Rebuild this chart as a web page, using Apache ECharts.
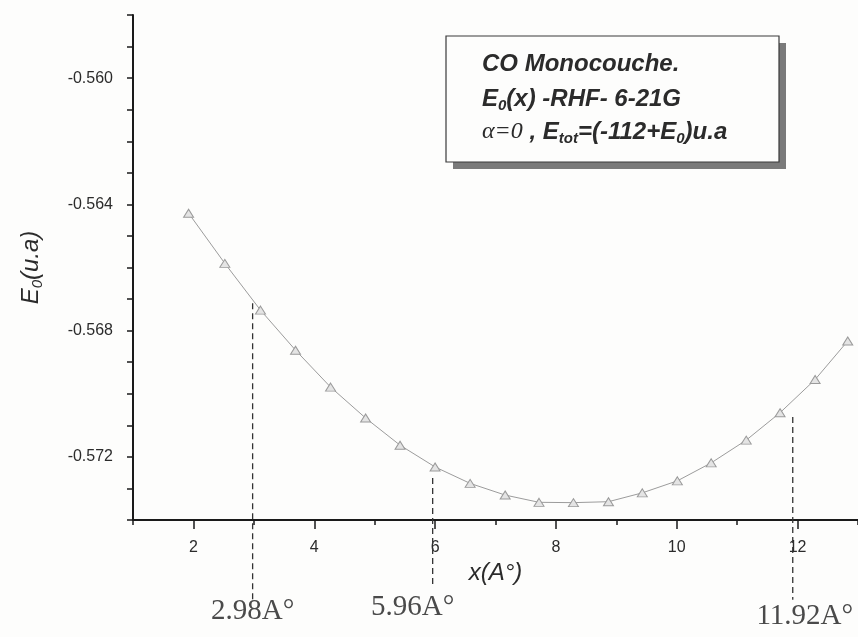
<!DOCTYPE html>
<html>
<head>
<meta charset="utf-8">
<script src="https://cdn.jsdelivr.net/npm/echarts@6/dist/echarts.min.js"></script>
<style>
  html, body { margin: 0; padding: 0; background: #fff; }
  #c { width: 858px; height: 637px; }
</style>
</head>
<body>
<div id="c"></div>
<script>
// Lattice distance x (Å) and ground-state energy E0 (u.a), RHF 6-21G
const xValues = [1.92, 2.52, 3.11, 3.69, 4.27, 4.85, 5.42, 6.00, 6.58, 7.16,
                 7.72, 8.29, 8.87, 9.43, 10.01, 10.57, 11.15, 11.71, 12.29, 12.83];
const energy = [-0.56428, -0.56587, -0.56735, -0.56862, -0.56979, -0.57077, -0.57163, -0.57232, -0.57284, -0.57321,
                -0.57344, -0.57345, -0.57342, -0.57314, -0.57276, -0.57219, -0.57147, -0.57060, -0.56955, -0.56833];

// Tick labels
const xTickLabels = [2, 4, 6, 8, 10, 12];
const yTickLabels = [-0.572, -0.568, -0.564, -0.560];

// Marked lattice distances (Å), with the energy span of each guide line
const latticeMarks = [2.98, 5.96, 11.92];
const latticeLabels = ['2.98A°', '5.96A°', '11.92A°'];
const markTops = [-0.56713, -0.57267, -0.57074];
const markBottoms = [-0.57653, -0.57615, -0.57653];

const SANS = '"Liberation Sans", Arial, sans-serif';
const SERIF = '"Liberation Serif", "Times New Roman", serif';
const INK = '#2b2b2b';

const chart = echarts.init(document.getElementById('c'), null, { renderer: 'canvas' });

const axisLineStyle = { color: '#1a1a1a', width: 2 };

chart.setOption({
  backgroundColor: '#fdfdfc',
  animation: false,
  grid: { left: 133, top: 15, width: 727, height: 505 },
  xAxis: [{
    type: 'value', min: 1, max: 13, interval: 1,
    axisLine: { show: true, onZero: false, lineStyle: axisLineStyle },
    axisTick: { show: true, length: 5, lineStyle: { color: '#1a1a1a', width: 1.5 } },
    axisLabel: { customValues: xTickLabels, margin: 20, fontSize: 16, color: INK, fontFamily: SANS },
    splitLine: { show: false },
    name: 'x(A°)', nameLocation: 'middle', nameGap: 40,
    nameTextStyle: { fontSize: 24, fontStyle: 'italic', color: INK, fontFamily: SANS }
  }, {
    type: 'value', min: 1, max: 13, position: 'bottom',
    axisLine: { show: false },
    axisTick: { show: true, customValues: xTickLabels, length: 9, lineStyle: { color: '#1a1a1a', width: 1.5 } },
    axisLabel: { show: false },
    splitLine: { show: false }
  }],
  yAxis: {
    type: 'value', min: -0.574, max: -0.558, interval: 0.001,
    axisLine: { show: true, onZero: false, lineStyle: axisLineStyle },
    axisTick: { show: true, length: 6, lineStyle: { color: '#1a1a1a', width: 1.5 } },
    axisLabel: {
      customValues: yTickLabels, margin: 20, fontSize: 16, color: INK, fontFamily: SANS,
      formatter: v => v.toFixed(3)
    },
    splitLine: { show: false },
    name: '{m|E}{s|0}{m|(u.a)}', nameLocation: 'middle', nameGap: 88,
    nameTextStyle: {
      rich: {
        m: { fontSize: 24, fontStyle: 'italic', color: INK, fontFamily: SANS, lineHeight: 28 },
        s: { fontSize: 15, fontStyle: 'italic', color: INK, fontFamily: SANS, lineHeight: 13, verticalAlign: 'bottom' }
      }
    }
  },
  series: [{
    type: 'line',
    data: xValues.map((x, i) => [x, energy[i]]),
    symbol: 'triangle', symbolSize: [10, 8],
    lineStyle: { color: '#9c9c9c', width: 1 },
    itemStyle: { color: '#e4e4e4', borderColor: '#9a9a9a', borderWidth: 1 },
    clip: false
  }]
});

// Legend box, guide lines and their labels
const main = { fontSize: 24, fontStyle: 'italic', fontWeight: 'bold', fontFamily: SANS, fill: INK, lineHeight: 28 };
const sub = { fontSize: 15, fontStyle: 'italic', fontWeight: 'bold', fontFamily: SANS, fill: INK, lineHeight: 13, verticalAlign: 'bottom' };
const greek = { fontSize: 24, fontStyle: 'italic', fontFamily: SERIF, fill: INK, lineHeight: 28 };

const graphics = [
  { type: 'rect', shape: { x: 453, y: 43, width: 333, height: 126 }, style: { fill: '#7a7a7a' }, z: 20 },
  { type: 'rect', shape: { x: 446, y: 36, width: 333, height: 126 }, style: { fill: '#fdfdfc', stroke: '#3a3a3a', lineWidth: 1.2 }, z: 21 },
  { type: 'text', x: 482, y: 64, z: 22, style: { text: '{b|CO Monocouche.}', rich: { b: main }, verticalAlign: 'middle' } },
  { type: 'text', x: 482, y: 99, z: 22, style: { text: '{b|E}{s|0}{b|(x) -RHF- 6-21G}', rich: { b: main, s: sub }, verticalAlign: 'middle' } },
  { type: 'text', x: 482, y: 132, z: 22, style: { text: '{g|α=0}{b| , E}{s|tot}{b|=(-112+E}{s|0}{b|)u.a}', rich: { b: main, s: sub, g: greek }, verticalAlign: 'middle' } }
];

// label offset from the lower end of each guide line
const labelShift = [[0, 12], [-20, 20], [12, 17]];
latticeMarks.forEach((m, i) => {
  const p1 = chart.convertToPixel({ xAxisIndex: 0, yAxisIndex: 0 }, [m, markTops[i]]);
  const p2 = chart.convertToPixel({ xAxisIndex: 0, yAxisIndex: 0 }, [m, markBottoms[i]]);
  graphics.push({
    type: 'line', z: 10,
    shape: { x1: p1[0], y1: p1[1], x2: p2[0], y2: p2[1] },
    style: { stroke: '#333', lineWidth: 1.3, lineDash: [6, 4] }
  });
  graphics.push({
    type: 'text', z: 10,
    x: p2[0] + labelShift[i][0], y: p2[1] + labelShift[i][1],
    style: { text: latticeLabels[i], font: '29px ' + SERIF, fill: '#4a4a4a', align: 'center', verticalAlign: 'middle' }
  });
});

chart.setOption({ graphic: graphics });
</script>
</body>
</html>
